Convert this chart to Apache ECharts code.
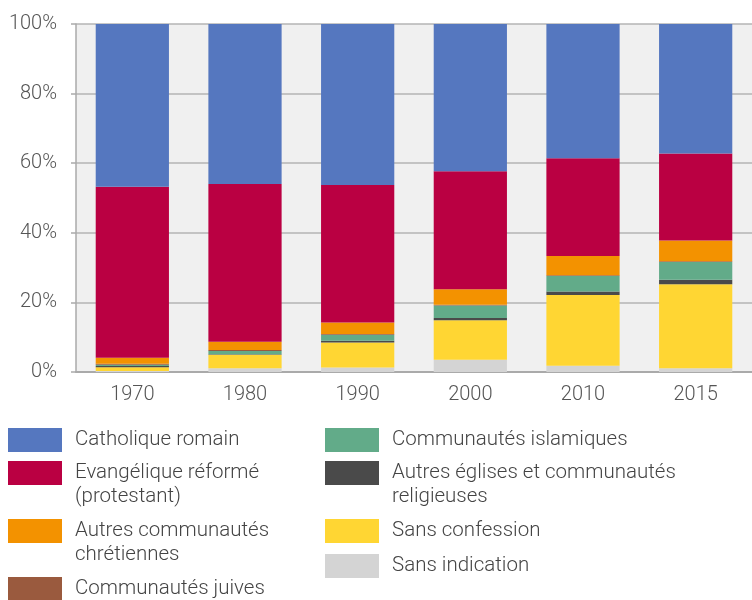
<!DOCTYPE html>
<html>
<head>
<meta charset="utf-8">
<script src="https://cdn.jsdelivr.net/npm/echarts@6/dist/echarts.min.js"></script>
<style>
html,body{margin:0;padding:0;background:#fff;}
#c{width:752px;height:600px;}
</style>
</head>
<body>
<div id="c"></div>
<script>
var years = ['1970', '1980', '1990', '2000', '2010', '2015'];
var yTicks = [0, 20, 40, 60, 80, 100];

var catholique      = [46.8, 46.0, 46.3, 42.3, 38.6, 37.2];
var evangelique     = [49.1, 45.3, 39.5, 33.9, 28.1, 25.0];
var autresChret     = [1.7, 2.4, 3.3, 4.5, 5.5, 6.0];
var juives          = [0.3, 0.3, 0.2, 0.2, 0.2, 0.2];
var islamiques      = [0.4, 0.9, 1.7, 3.6, 4.5, 5.1];
var autresEglises   = [0.3, 0.15, 0.5, 0.6, 1.0, 1.3];
var sansConfession  = [1.1, 3.85, 7.2, 11.4, 20.3, 24.1];
var sansIndication  = [0.3, 1.1, 1.3, 3.5, 1.8, 1.1];

var names = {
  cat: 'Catholique romain',
  eva: 'Evangélique réformé (protestant)',
  ach: 'Autres communautés chrétiennes',
  jui: 'Communautés juives',
  isl: 'Communautés islamiques',
  aeg: 'Autres églises et communautés religieuses',
  sco: 'Sans confession',
  sin: 'Sans indication'
};
var labels = {};
labels[names.eva] = ' \nEvangélique réformé\n(protestant)';
labels[names.ach] = ' \nAutres communautés\nchrétiennes';
labels[names.aeg] = ' \nAutres églises et communautés\nreligieuses';

var colors = {
  cat: '#5577bf',
  eva: '#ba0042',
  ach: '#f39200',
  jui: '#9a5a3e',
  isl: '#62ab89',
  aeg: '#4a4a4a',
  sco: '#ffd633',
  sin: '#d4d4d4'
};

function bar(key, data) {
  return {
    name: names[key], type: 'bar', stack: 'total', data: data,
    barWidth: '65%',
    itemStyle: { color: colors[key] },
    emphasis: { disabled: true },
    animation: false
  };
}

function leg(key, left, top) {
  return {
    data: [names[key]],
    left: left, top: top,
    orient: 'vertical',
    itemWidth: 54, itemHeight: 24,
    padding: 0,
    selectedMode: false,
    icon: 'rect',
    formatter: function (n) { return labels[n] || n; },
    textStyle: {
      fontFamily: 'Roboto', fontWeight: 300, fontSize: 20.5, color: '#444', lineHeight: 24,
      padding: [0, 0, 0, 8]
    }
  };
}

var chart = echarts.init(document.getElementById('c'), null, { renderer: 'canvas' });
chart.setOption({
  animation: false,
  textStyle: { fontFamily: 'Roboto' },
  grid: {
    left: 76, right: -4, top: 24, bottom: 228,
    show: true, backgroundColor: '#f0f0f0', borderWidth: 0
  },
  xAxis: {
    type: 'category', data: years,
    axisLine: { lineStyle: { color: '#aaaaaa', width: 2 } },
    axisTick: { show: false },
    axisLabel: { fontSize: 20, fontWeight: 300, color: '#555', margin: 13, fontFamily: 'Roboto' }
  },
  yAxis: {
    type: 'value', min: yTicks[0], max: yTicks[yTicks.length - 1], interval: 20,
    axisLine: { show: true, lineStyle: { color: '#aaaaaa', width: 1.5 } },
    axisTick: { show: true, length: 5, lineStyle: { color: '#aaaaaa', width: 1.5 } },
    axisLabel: { fontSize: 20, fontWeight: 300, color: '#555', margin: 19, formatter: '{value}%', fontFamily: 'Roboto' },
    splitLine: { lineStyle: { color: '#b5b5b5', width: 1.5 } }
  },
  legend: [
    leg('cat', 8, 428),
    leg('eva', 8, 437),
    leg('ach', 8, 495),
    leg('jui', 8, 577),
    leg('isl', 325, 428),
    leg('aeg', 325, 437),
    leg('sco', 325, 519),
    leg('sin', 325, 554)
  ],
  series: [
    bar('sin', sansIndication),
    bar('sco', sansConfession),
    bar('aeg', autresEglises),
    bar('isl', islamiques),
    bar('jui', juives),
    bar('ach', autresChret),
    bar('eva', evangelique),
    bar('cat', catholique)
  ]
});
</script>
</body>
</html>
